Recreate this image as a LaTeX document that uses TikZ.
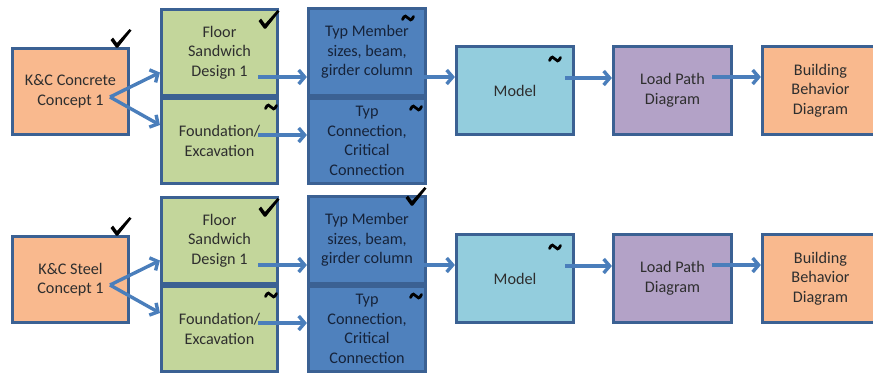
\documentclass[tikz,border=0pt]{standalone}
\usepackage{fontspec}
\setmainfont{Carlito}
\usetikzlibrary{arrows.meta}
\definecolor{bordc}{HTML}{3B6193}
\definecolor{arrc}{HTML}{4A7EBB}
\definecolor{orgf}{HTML}{F9B98E}
\definecolor{grnf}{HTML}{C3D69B}
\definecolor{dblf}{HTML}{4F81BD}
\definecolor{lblf}{HTML}{93CDDD}
\definecolor{purf}{HTML}{B3A2C7}
\definecolor{txt}{HTML}{2E2E2E}
\definecolor{dtxt}{HTML}{16233A}
\begin{document}
\begin{tikzpicture}[x=1pt,y=-1pt,
  box/.style={draw=bordc, line width=3.2pt, inner sep=0pt, align=center, text=txt,
    minimum width=116pt, minimum height=86pt, font=\fontsize{16.2}{19.5}\selectfont},
  orgbox/.style={box, fill=orgf},
  grnbox/.style={box, fill=grnf},
  dblbox/.style={box, fill=dblf, text=dtxt},
  lblbox/.style={box, fill=lblf, minimum height=88pt},
  purbox/.style={box, fill=purf, minimum height=88pt},
  arr/.style={draw=arrc, line width=3.4pt, -{Straight Barb[length=6pt,width=14pt]}},
  chk/.pic={\fill[black] (-6.5,-6) -- (-4,-8.5) -- (0,-3) -- (12.5,-17) -- (14.5,-15.5) -- (1,1.5) -- (-1,1.5) -- cycle;},
  tld/.pic={\draw[black, line width=2.8pt, line cap=round] (-5.5,1.5) .. controls (-3.5,-3.5) and (-1.5,-2) .. (0,0) .. controls (1.5,2) and (3.5,3.5) .. (5.5,-1.5);}
]
\useasboundingbox (0,0) rectangle (873,373);
\clip (0,0) rectangle (873,373);
\foreach \r/\dy/\lab in {1/0/Concrete, 2/188/Steel}{
  \node[orgbox] (kc\r) at (70.5,91.5+\dy) {K\&C \lab\\Concept 1};
  \node[grnbox] (fs\r) at (219.5,52.5+\dy) {Floor\\Sandwich\\Design 1};
  \node[grnbox, minimum height=85pt] (fe\r) at (219.5,141+\dy) {Foundation/\\Excavation};
  \node[dblbox, minimum width=117pt, minimum height=87pt] (tm\r) at (367,52+\dy) {Typ Member\\sizes, beam,\\girder column};
  \node[dblbox, minimum width=117pt, minimum height=85pt] (tc\r) at (367,141+\dy) {Typ\\Connection,\\Critical\\Connection};
  \node[lblbox, minimum width=117pt] (md\r) at (515,90.5+\dy) {Model};
  \node[purbox, minimum width=118pt] (lp\r) at (672.5,90.5+\dy) {Load Path\\Diagram};
  \node[orgbox, minimum height=88pt] (bb\r) at (820.5,90.5+\dy) {Building\\Behavior\\Diagram};
  \coordinate (s1\r) at (110,97+\dy);
  \coordinate (s2\r) at (258,77+\dy);
  \coordinate (s3\r) at (258,135+\dy);
  \coordinate (s4\r) at (424,77+\dy);
  \coordinate (s5\r) at (565,78+\dy);
  \coordinate (s6\r) at (712,77+\dy);
  \draw[arr] (s1\r) -- ([yshift=-20pt]fs\r.west);
  \draw[arr] (s1\r) -- ([yshift=16pt]fe\r.west);
  \draw[arr] (s2\r) -- ([yshift=-25pt]tm\r.west);
  \draw[arr] (s3\r) -- ([yshift=6pt]tc\r.west);
  \draw[arr] (s4\r) -- ([yshift=13.5pt]md\r.west);
  \draw[arr] (s5\r) -- ([yshift=12.5pt]lp\r.west);
  \draw[arr] (s6\r) -- ([yshift=13.5pt]bb\r.west);
  \pic at (117,46+\dy) {chk};
  \pic at (265,27+\dy) {chk};
  \pic at (271,107+\dy) {tld};
  \pic at (416,108+\dy) {tld};
  \pic at (555,59+\dy) {tld};
}
\pic at (408,18) {tld};
\pic at (412,204) {chk};
\end{tikzpicture}
\end{document}
